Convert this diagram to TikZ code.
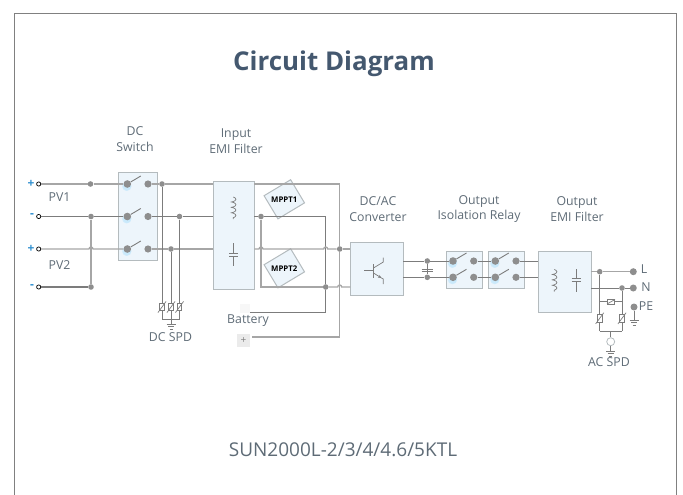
\documentclass[tikz,border=0pt]{standalone}
\usepackage{fontspec}
\setmainfont{Open Sans}
\usetikzlibrary{arrows.meta,decorations.pathmorphing,shadows}
\definecolor{boxfill}{HTML}{EDF5FB}
\definecolor{boxline}{HTML}{B4BBBE}
\definecolor{wirelight}{HTML}{A6A6A6}
\definecolor{wiredark}{HTML}{7C7C7C}
\definecolor{dotgray}{HTML}{8E8E8E}
\definecolor{textgray}{HTML}{5E6B76}
\definecolor{titleblue}{HTML}{44586F}
\definecolor{termblue}{HTML}{2F8FCF}
\tikzset{
    wire/.style={wirelight, line width=1.3pt},
    wirethin/.style={wiredark, line width=0.9pt},
    symbol/.style={wiredark, line width=0.7pt},
    blockbox/.style={draw=boxline, fill=boxfill, line width=1.1pt, inner sep=0pt, anchor=north west},
    junction/.style={circle, fill=dotgray, inner sep=0pt, minimum size=5.6pt},
    contact/.style={circle, fill=dotgray, inner sep=0pt, minimum size=7.6pt, circular drop shadow={fill=blue!35!cyan, opacity=0.15, shadow xshift=-0.5pt, shadow yshift=-1.6pt, shadow scale=1.3}},
    contactplain/.style={circle, fill=dotgray, inner sep=0pt, minimum size=7.2pt},
    endpoint/.style={circle, fill=dotgray, inner sep=0pt, minimum size=7pt},
    terminal/.style={circle, draw=black, fill=white, line width=0.7pt, inner sep=0pt, minimum size=4.2pt},
    polarity/.style={termblue, font=\fontsize{12}{12}\selectfont\bfseries},
    caption/.style={textgray, align=center, font=\fontsize{12.3}{15.7}\selectfont},
    mpptbox/.style={draw=boxline, fill=boxfill, line width=1pt, minimum width=31pt, minimum height=27pt, rotate=31},
    mppttext/.style={black, font=\fontsize{7.8}{8}\selectfont\bfseries},
    spdbox/.style={draw=wiredark, fill=white, line width=0.6pt, inner sep=0pt, minimum width=4.5pt, minimum height=7.5pt},
    coilline/.style={symbol, decorate, decoration={coil, aspect=0.35, segment length=5.4pt, amplitude=2.6pt}},
}
\begin{document}
\begin{tikzpicture}[x=1pt, y=-1pt]
    \useasboundingbox (0,0) rectangle (683,495);
    \draw[gray, line width=0.8pt] (14,495) -- (14,13) -- (676,13) -- (676,495);

    \node[titleblue, font=\fontsize{25.9}{26}\selectfont\bfseries] (title) at (334,64) {Circuit Diagram};
    \node[textgray, font=\fontsize{19}{19}\selectfont] (model) at (343,450) {SUN2000L-2/3/4/4.6/5KTL};

    \node[caption] (dcswitchtext) at (135,139) {DC\\Switch};
    \node[caption] (inputtext) at (236,141) {Input\\EMI Filter};
    \node[caption] (convtext) at (378,209) {DC/AC\\Converter};
    \node[caption] (relaytext) at (479,209) {Output\\Isolation Relay};
    \node[caption] (filtertext) at (577,209) {Output\\EMI Filter};
    \node[caption] (pv1text) at (59.5,197.5) {PV1};
    \node[caption] (pv2text) at (59.5,265.5) {PV2};
    \node[caption] (dcspdtext) at (170.5,337) {DC SPD};
    \node[caption] (batterytext) at (248,321) {Battery};
    \node[caption] (acspdtext) at (609,362.5) {AC SPD};
    \node[caption] (ltext) at (644,269) {L};
    \node[caption] (ntext) at (646,287.5) {N};
    \node[caption] (petext) at (646,306) {PE};

    \node[blockbox, minimum width=39pt, minimum height=88pt] (dcswitch) at (118.3,172.3) {};
    \node[blockbox, minimum width=41pt, minimum height=108.5pt] (inputemi) at (213.3,180.7) {};
    \node[blockbox, minimum width=52.7pt, minimum height=52.4pt] (converter) at (350.3,242.3) {};
    \node[blockbox, minimum width=35.7pt, minimum height=37.3pt] (relaya) at (446,251) {};
    \node[blockbox, minimum width=35.7pt, minimum height=37.3pt] (relayb) at (488.3,251) {};
    \node[blockbox, minimum width=52.7pt, minimum height=61pt] (outputemi) at (538.3,251) {};
    \node[mpptbox] (mppta) at (284.3,199.3) {};
    \node[mpptbox] (mpptb) at (284.3,268.3) {};
    \node[mppttext] (mpptatext) at (mppta) {MPPT1};
    \node[mppttext] (mpptbtext) at (mpptb) {MPPT2};
    \node[fill=black!3, inner sep=0pt, minimum width=10pt, minimum height=8.7pt] (battminus) at (245,308.3) {};
    \node[fill=black!8, inner sep=0pt, minimum size=13pt, text=gray, font=\fontsize{10}{10}\selectfont] (battplus) at (243.5,340.5) {+};

    \node[polarity] (plusa) at (31,184) {+};
    \node[polarity] (minusa) at (32,216) {-};
    \node[polarity] (plusb) at (31,249) {+};
    \node[polarity] (minusb) at (32,286.5) {-};
    \node[terminal] (terma) at (38.7,184) {};
    \node[terminal] (termb) at (38.7,216.5) {};
    \node[terminal] (termc) at (38.7,249) {};
    \node[terminal] (termd) at (38.7,287) {};

    \node[junction] (pva) at (90.5,184) {};
    \node[junction] (pvb) at (91,216.5) {};
    \node[junction] (pvd) at (91,287) {};
    \coordinate (pvhop) at (91,249);

    \node[contact] (swal) at (127.3,184) {};
    \node[contactplain] (swar) at (148,184) {};
    \node[contact] (swbl) at (127.3,216.5) {};
    \node[contactplain] (swbr) at (148,216.5) {};
    \node[contact] (swcl) at (127.3,249) {};
    \node[contactplain] (swcr) at (148,249) {};

    \node[junction] (spdtopa) at (162,184) {};
    \node[junction] (spdtopb) at (179.5,216.5) {};
    \node[junction] (spdtopc) at (171,249) {};
    \coordinate (spdjoina) at (162,319);
    \coordinate (spdjoinb) at (171,319);
    \coordinate (spdjoinc) at (179.5,319);
    \coordinate (gnddc) at (171,324);

    \coordinate (ina) at (213.3,184);
    \coordinate (inb) at (213.3,216.5);
    \coordinate (inc) at (213.3,249);
    \coordinate (outa) at (254.3,184);
    \coordinate (outb) at (254.3,216.5);
    \coordinate (outc) at (254.3,249);
    \node[junction] (busa) at (261,216.5) {};
    \coordinate (bushop) at (261,249);
    \coordinate (buscorner) at (261,287);
    \coordinate (cornera) at (325.7,216.5);
    \coordinate (hopb) at (325.7,249);
    \node[junction] (busb) at (325.7,287) {};
    \coordinate (cornerb) at (325.7,312.3);
    \coordinate (cornerc) at (339.7,184);
    \node[junction] (busc) at (339.7,249) {};
    \coordinate (hopc) at (339.7,287);
    \coordinate (cornerd) at (339.7,337);
    \coordinate (convina) at (350.3,249);
    \coordinate (convinb) at (350.3,287);
    \coordinate (battminusend) at (250,312.3);
    \coordinate (battplusend) at (252,337);

    \coordinate (convouta) at (403,261);
    \coordinate (convoutb) at (403,277.3);
    \node[junction] (linka) at (427.3,261) {};
    \node[junction] (linkb) at (427.3,277.3) {};
    \node[contact] (rlal) at (453,261) {};
    \node[contactplain] (rlar) at (473.7,261) {};
    \node[contact] (rlbl) at (453,277.3) {};
    \node[contactplain] (rlbr) at (473.7,277.3) {};
    \node[contact] (rlcl) at (495.3,261) {};
    \node[contactplain] (rlcr) at (516,261) {};
    \node[contact] (rldl) at (495.3,277.3) {};
    \node[contactplain] (rldr) at (516,277.3) {};
    \coordinate (filterina) at (538.3,261);
    \coordinate (filterinb) at (538.3,277.3);

    \coordinate (filterouta) at (591,271.7);
    \coordinate (filteroutb) at (591,288);
    \node[junction] (acl) at (599.7,271.7) {};
    \node[junction] (acn) at (622,288) {};
    \node[endpoint] (lpoint) at (633.3,271.7) {};
    \node[endpoint] (npoint) at (633.3,288) {};
    \node[endpoint] (pepoint) at (634,307) {};
    \coordinate (gndpe) at (634,320);
    \coordinate (crossl) at (599.7,301.7);
    \coordinate (crossn) at (622,301.7);
    \coordinate (acjoinl) at (599.7,331.3);
    \coordinate (acjoinm) at (610.7,331.3);
    \coordinate (acjoinr) at (622,331.3);
    \node[circle, draw=boxline, fill=white, line width=0.8pt, inner sep=0pt, minimum size=8pt] (gastube) at (610.7,341.7) {};
    \coordinate (gndac) at (610.7,351);

    \draw[wire] (terma) -- (pva);
    \draw[wire] (pva) -- (swal);
    \draw[wire] (swar) -- (spdtopa);
    \draw[wire] (spdtopa) -- (ina);
    \draw[wirethin] (termb) -- (pvb);
    \draw[wirethin] (pvb) -- (swbl);
    \draw[wirethin] (swbr) -- (spdtopb);
    \draw[wirethin] (spdtopb) -- (inb);
    \draw[wire] (termc) -- ([xshift=-2pt]pvhop) arc[start angle=180, end angle=0, radius=2pt] -- (swcl);
    \draw[wire] (swcr) -- (spdtopc);
    \draw[wire] (spdtopc) -- (inc);
    \draw[wirethin, line width=1.1pt] (termd) -- (pvd);
    \draw[wire] (pvb) -- (pvd);

    \draw[symbol, line width=0.9pt] (swal) -- +(13.5,-8);
    \draw[symbol, line width=0.9pt] (swbl) -- +(13.5,-8);
    \draw[symbol, line width=0.9pt] (swcl) -- +(13.5,-8);

    \draw[wirethin] (spdtopa) -- (spdjoina);
    \draw[wirethin] (spdtopc) -- (spdjoinb);
    \draw[wirethin] (spdtopb) -- (spdjoinc);
    \draw[wirethin] (spdjoina) -- (spdjoinc);
    \draw[wirethin] (spdjoinb) -- (gnddc);
    \node[spdbox] (spda) at (162,307) {};
    \node[spdbox] (spdc) at (171,307) {};
    \node[spdbox] (spdb) at (179.5,307) {};

    \draw[wire] (outa) -- (cornerc) -- (busc);
    \draw[wire] (busc) -- (cornerd) -- (battplusend);
    \draw[wirethin] (outb) -- (busa);
    \draw[wirethin] (busa) -- (cornera) -- (busb);
    \draw[wirethin] (busb) -- (cornerb) -- (battminusend);
    \draw[wire] (busa) -- (buscorner) -- (busb);
    \draw[wire] (busb) -- ([xshift=-2pt]hopc) arc[start angle=180, end angle=0, radius=2pt] -- (convinb);
    \draw[wire] (outc) -- ([xshift=-2pt]bushop) arc[start angle=180, end angle=0, radius=2pt] -- ([xshift=-2pt]hopb) arc[start angle=180, end angle=0, radius=2pt] -- (busc);
    \draw[wire] (busc) -- (convina);

    \draw[wirethin] (convouta) -- (linka);
    \draw[wirethin] (convoutb) -- (linkb);
    \draw[wirethin] (linka) -- (rlal);
    \draw[wirethin] (linkb) -- (rlbl);
    \draw[wirethin] (rlar) -- (rlcl);
    \draw[wirethin] (rlbr) -- (rldl);
    \draw[wirethin] (rlcr) -- (filterina);
    \draw[wirethin] (rldr) -- (filterinb);
    \draw[wirethin] (linka) -- (linkb);
    \draw[wiredark, line width=1pt] (421.5,269.2) -- (433,269.2);
    \draw[wiredark, line width=1pt] (421.5,271.4) -- (433,271.4);
    \draw[symbol, line width=0.9pt] (rlal) -- +(13.5,-8);
    \draw[symbol, line width=0.9pt] (rlbl) -- +(13.5,-8);
    \draw[symbol, line width=0.9pt] (rlcl) -- +(13.5,-8);
    \draw[symbol, line width=0.9pt] (rldl) -- +(13.5,-8);

    \draw[wire] (filterouta) -- (acl);
    \draw[wire] (acl) -- (lpoint);
    \draw[wirethin] (filteroutb) -- (acn);
    \draw[wirethin] (acn) -- (npoint);
    \draw[wirethin] (acl) -- (acjoinl);
    \draw[wirethin] (acn) -- (acjoinr);
    \draw[wirethin] (acjoinl) -- (acjoinr);
    \draw[wirethin] (crossl) -- (crossn);
    \draw[wirethin] (acjoinm) -- (gastube);
    \draw[wirethin] (gastube) -- (gndac);
    \draw[wirethin] (pepoint) -- (gndpe);
    \node[spdbox, rotate=90] (spde) at (611,301.7) {};
    \node[spdbox] (spdf) at (599.7,318.3) {};
    \node[spdbox] (spdg) at (622,318.3) {};

    \foreach \n in {spda,spdb,spdc,spdf,spdg} {
        \draw[symbol] ([shift={(-1.5,1.5)}]\n.south west) -- ([shift={(1.5,-1.5)}]\n.north east);
    }
    \draw[symbol] (607,304) -- (615,299.5);

    \foreach \g in {gnddc,gndpe,gndac} {
        \draw[symbol, line width=0.9pt] ([xshift=-4.5pt]\g) -- ([xshift=4.5pt]\g);
        \draw[symbol, line width=0.9pt] ([shift={(-3,2.6)}]\g) -- ([shift={(3,2.6)}]\g);
        \draw[symbol, line width=0.9pt] ([shift={(-1.5,5.2)}]\g) -- ([shift={(1.5,5.2)}]\g);
    }

    \draw[coilline] (233.3,197) -- (233.3,219);
    \draw[symbol] (233.5,243) -- (233.5,253.3);
    \draw[symbol] (233.5,256.7) -- (233.5,266);
    \draw[symbol] (229,253.3) -- (238,253.3);
    \draw[symbol] (229,256.7) -- (238,256.7);

    \draw[coilline] (554.3,269.5) -- (554.3,291.5);
    \draw[symbol] (576.3,269) -- (576.3,278.6);
    \draw[symbol] (576.3,281.4) -- (576.3,291.7);
    \draw[symbol] (571.7,278.6) -- (581,278.6);
    \draw[symbol] (571.7,281.4) -- (581,281.4);

    \draw[symbol] (364,270.7) -- (373.3,270.7);
    \draw[symbol, line width=1pt] (373.3,264) -- (373.3,278);
    \draw[symbol] (383.3,257.7) -- (383.3,262) -- (373.5,268);
    \draw[symbol, -{Stealth[length=3.5pt, width=3pt]}] (373.5,273) -- (381.5,278);
    \draw[symbol] (381,277.8) -- (383.3,279) -- (383.3,284);
\end{tikzpicture}
\end{document}
